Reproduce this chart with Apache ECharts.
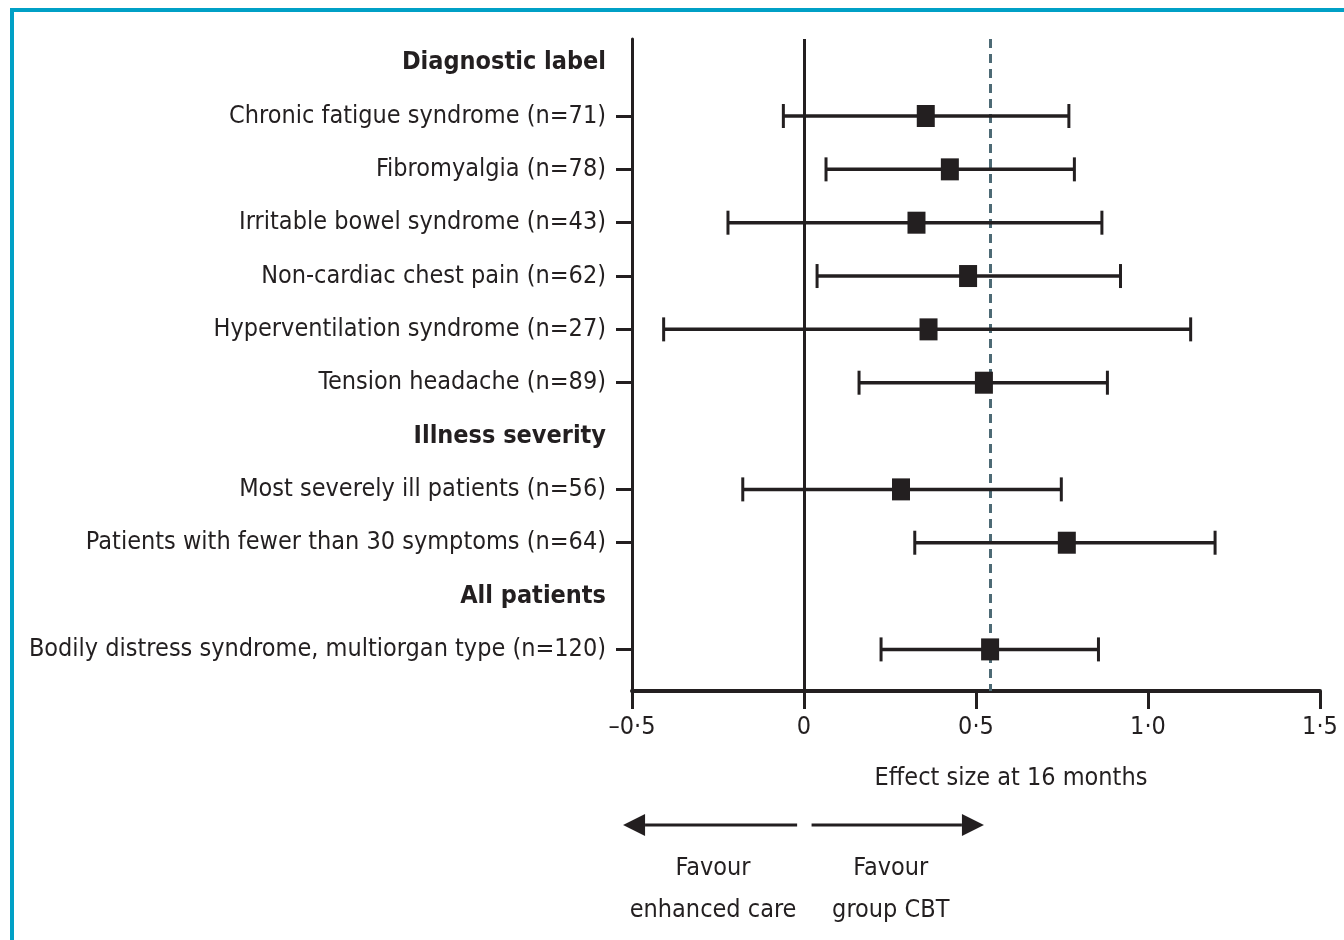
<!DOCTYPE html>
<html>
<head>
<meta charset="utf-8">
<script src="https://cdn.jsdelivr.net/npm/echarts@6/dist/echarts.min.js"></script>
<style>
html,body{margin:0;padding:0;background:#fff;}
#chart{width:1344px;height:940px;}
</style>
</head>
<body>
<div id="chart"></div>
<script>
// ---- data ----
const rowLabels = [
  'Diagnostic label',
  'Chronic fatigue syndrome (n=71)',
  'Fibromyalgia (n=78)',
  'Irritable bowel syndrome (n=43)',
  'Non-cardiac chest pain (n=62)',
  'Hyperventilation syndrome (n=27)',
  'Tension headache (n=89)',
  'Illness severity',
  'Most severely ill patients (n=56)',
  'Patients with fewer than 30 symptoms (n=64)',
  'All patients',
  'Bodily distress syndrome, multiorgan type (n=120)'
];
const headerRows = [0, 7, 10];
const dataRows = [1, 2, 3, 4, 5, 6, 8, 9, 11];
const estimates = [0.354, 0.424, 0.327, 0.477, 0.362, 0.523, 0.282, 0.764, 0.541];
const lowerCI   = [-0.060, 0.064, -0.221, 0.038, -0.408, 0.160, -0.178, 0.322, 0.224];
const upperCI   = [0.770, 0.786, 0.866, 0.920, 1.124, 0.882, 0.748, 1.195, 0.856];
const referenceEffect = 0.54;
const xTickValues = [-0.5, 0, 0.5, 1.0, 1.5];
const xTickLabels = ['\u20130\u00b75', '0', '0\u00b75', '1\u00b70', '1\u00b75'];
const xAxisTitle = 'Effect size at 16 months';
const favourLeft = 'Favour\nenhanced care';
const favourRight = 'Favour\ngroup CBT';

// ---- styles ----
const INK = '#231f20';
const FONT = "'Liberation Sans Narrow', 'DejaVu Sans Condensed', 'Roboto Condensed', sans-serif";
const FS = 25;

const chart = echarts.init(document.getElementById('chart'), null, {renderer: 'canvas'});

const errData = dataRows.map((r, i) => [lowerCI[i], upperCI[i], r]);
const ptData = dataRows.map((r, i) => [estimates[i], r]);

const option = {
  animation: false,
  backgroundColor: '#ffffff',
  textStyle: {fontFamily: FONT, color: INK},
  grid: {left: 632, right: 24, top: 39, bottom: 249, containLabel: false, outerBoundsMode: 'none'},
  xAxis: {
    type: 'value',
    min: -0.5, max: 1.5, interval: 0.5,
    axisLine: {show: true, onZero: false, lineStyle: {color: INK, width: 4}},
    axisTick: {show: true, length: 18, lineStyle: {color: INK, width: 3}},
    axisLabel: {
      margin: 24, fontSize: FS, color: INK, fontFamily: FONT,
      formatter: v => { const k = xTickValues.findIndex(t => Math.abs(t - v) < 1e-9); return k >= 0 ? xTickLabels[k] : ''; }
    },
    splitLine: {show: false},
    name: xAxisTitle,
    nameLocation: 'middle',
    nameGap: 75,
    nameTextStyle: {fontSize: FS, color: INK, fontFamily: FONT, padding: [0, 0, 0, 70]}
  },
  yAxis: {
    type: 'value',
    inverse: true,
    min: -0.444, max: 11.78,
    axisLine: {show: true, onZero: false, lineStyle: {color: INK, width: 3}},
    axisTick: {show: true, length: 16, customValues: dataRows, lineStyle: {color: INK, width: 3}},
    axisLabel: {
      customValues: rowLabels.map((_, i) => i),
      margin: 26, fontSize: FS, color: INK, fontFamily: FONT,
      formatter: v => headerRows.indexOf(v) >= 0 ? '{h|' + rowLabels[v] + '}' : rowLabels[v],
      rich: {h: {fontWeight: 'bold', fontSize: FS, color: INK, fontFamily: FONT}}
    },
    splitLine: {show: false}
  },
  series: [
    {
      type: 'custom',
      name: 'CI',
      clip: false,
      z: 3,
      data: errData,
      encode: {x: [0, 1], y: 2},
      renderItem: function (params, api) {
        const y = api.value(2);
        const p1 = api.coord([api.value(0), y]);
        const p2 = api.coord([api.value(1), y]);
        const cap = 12;
        const st = {stroke: INK, lineWidth: 3.5, fill: null};
        const stc = {stroke: INK, lineWidth: 3, fill: null};
        return {
          type: 'group',
          children: [
            {type: 'line', shape: {x1: p1[0], y1: p1[1], x2: p2[0], y2: p2[1]}, style: st},
            {type: 'line', shape: {x1: p1[0], y1: p1[1] - cap, x2: p1[0], y2: p1[1] + cap}, style: stc},
            {type: 'line', shape: {x1: p2[0], y1: p2[1] - cap, x2: p2[0], y2: p2[1] + cap}, style: stc}
          ]
        };
      }
    },
    {
      type: 'scatter',
      name: 'Effect',
      z: 4,
      symbol: 'rect',
      symbolSize: [18, 22],
      itemStyle: {color: INK, opacity: 1},
      data: ptData,
      markLine: {
        silent: true,
        symbol: ['none', 'none'],
        label: {show: false},
        z: 2,
        data: [
          {xAxis: 0, lineStyle: {color: INK, width: 3, type: 'solid', opacity: 1}},
          {xAxis: referenceEffect, lineStyle: {color: '#4d6a75', width: 3, type: [9, 6], opacity: 1}}
        ]
      }
    }
  ]
};
chart.setOption(option);

// ---- annotations below the axis (positions derived from the x scale) ----
function px(v) { return chart.convertToPixel({xAxisIndex: 0}, v); }
const arrowY = 825;
const headLen = 22, headHalf = 11;
const lStart = px(-0.02), lTip = px(-0.526);
const rStart = px(0.022), rTip = px(0.523);
const gfx = [
  {type: 'polyline', shape: {points: [[12, 940], [12, 10], [1344, 10]]}, style: {stroke: '#00a0c6', lineWidth: 4, fill: null}, z: 10},
  {type: 'line', shape: {x1: lStart, y1: arrowY, x2: lTip + headLen, y2: arrowY}, style: {stroke: INK, lineWidth: 3}},
  {type: 'polygon', shape: {points: [[lTip, arrowY], [lTip + headLen, arrowY - headHalf], [lTip + headLen, arrowY + headHalf]]}, style: {fill: INK}},
  {type: 'line', shape: {x1: rStart, y1: arrowY, x2: rTip - headLen, y2: arrowY}, style: {stroke: INK, lineWidth: 3}},
  {type: 'polygon', shape: {points: [[rTip, arrowY], [rTip - headLen, arrowY - headHalf], [rTip - headLen, arrowY + headHalf]]}, style: {fill: INK}},
  {type: 'text', x: (lTip + lStart) / 2 + 3, y: 847, style: {text: favourLeft, font: FS + 'px ' + FONT, fill: INK, align: 'center', verticalAlign: 'top', lineHeight: 42}},
  {type: 'text', x: (rTip + rStart) / 2 - 7, y: 847, style: {text: favourRight, font: FS + 'px ' + FONT, fill: INK, align: 'center', verticalAlign: 'top', lineHeight: 42}}
];
chart.setOption({graphic: {elements: gfx}});
</script>
</body>
</html>
